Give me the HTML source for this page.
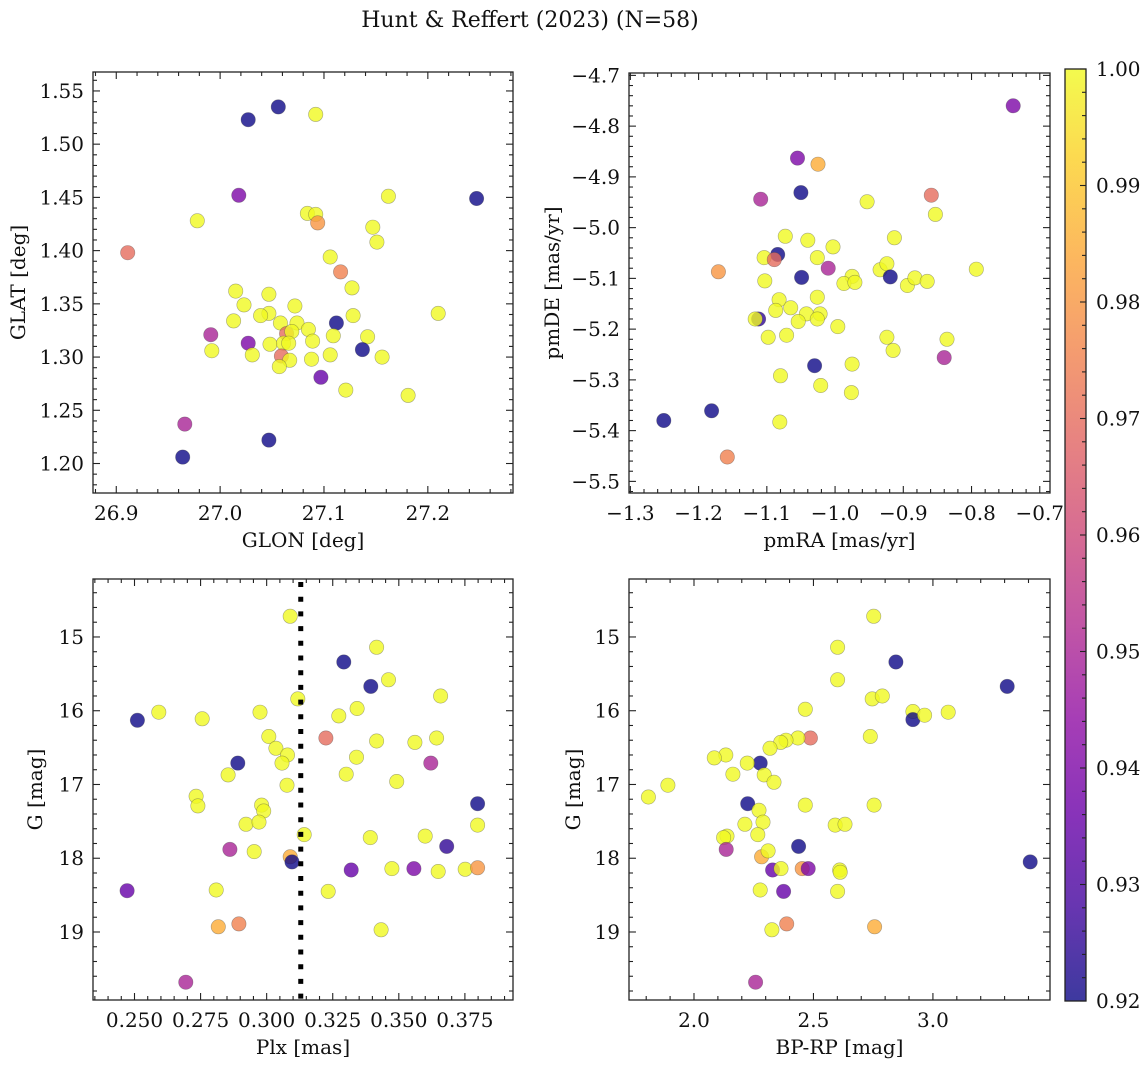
<!DOCTYPE html>
<html>
<head>
<meta charset="utf-8">
<style>
html,body{margin:0;padding:0;background:#fff;}
svg{display:block;font-family:"DejaVu Serif","Liberation Serif",serif;}
</style>
</head>
<body>
<svg id="fig" width="1148" height="1068" viewBox="0 0 1148 1068" xmlns="http://www.w3.org/2000/svg">
<text x="530" y="27" font-size="22" text-anchor="middle" fill="#111">Hunt &amp; Reffert (2023) (N=58)</text>
</svg>
<script>
// ---------- Panel 1: GLON vs GLAT ----------
const glon = [27.027,27.056,27.092,27.018,27.247,26.978,26.911,27.162,27.084,27.092,27.094,27.147,27.151,27.106,27.116,27.127,27.015,27.047,27.072,27.023,27.047,27.039,27.013,27.058,27.074,27.085,27.128,27.210,27.112,27.064,27.069,27.089,27.109,27.142,26.991,27.027,27.048,27.061,27.066,26.992,27.031,27.059,27.067,27.057,27.088,27.106,27.137,27.156,27.097,27.121,27.181,26.966,27.047,26.964];
const glat = [1.523,1.535,1.528,1.452,1.449,1.428,1.398,1.451,1.435,1.434,1.426,1.422,1.408,1.394,1.380,1.365,1.362,1.359,1.348,1.349,1.341,1.339,1.334,1.332,1.332,1.326,1.339,1.341,1.332,1.322,1.324,1.315,1.320,1.319,1.321,1.313,1.312,1.313,1.313,1.306,1.302,1.301,1.297,1.291,1.298,1.302,1.307,1.300,1.281,1.269,1.264,1.237,1.222,1.206];
const prob1 = [0.92,0.92,1,0.94,0.92,1,0.97,1,1,1,0.98,1,1,1,0.975,1,1,1,1,1,1,1,1,1,1,1,1,1,0.92,0.97,1,1,1,1,0.95,0.94,1,1,1,1,1,0.97,1,1,1,1,0.92,1,0.935,1,1,0.95,0.92,0.92];

// ---------- Panel 2: pmRA vs pmDE ----------
const pmra = [-0.739,-1.055,-1.025,-1.050,-1.109,-0.859,-0.953,-0.853,-1.073,-1.040,-1.003,-0.913,-1.084,-1.104,-1.089,-1.026,-1.010,-1.171,-1.049,-1.103,-0.975,-0.987,-0.971,-0.934,-0.924,-0.919,-0.894,-0.883,-0.865,-0.793,-1.082,-1.026,-1.065,-1.087,-1.042,-1.022,-1.026,-1.112,-1.117,-1.054,-0.996,-1.098,-1.071,-0.924,-0.915,-0.836,-0.840,-1.030,-0.975,-1.080,-1.021,-0.976,-1.081,-1.181,-1.251,-1.158];
const pmde = [-4.760,-4.863,-4.875,-4.931,-4.944,-4.936,-4.949,-4.974,-5.017,-5.025,-5.038,-5.020,-5.053,-5.059,-5.063,-5.059,-5.080,-5.087,-5.098,-5.105,-5.096,-5.110,-5.108,-5.083,-5.071,-5.097,-5.114,-5.099,-5.106,-5.082,-5.142,-5.137,-5.158,-5.163,-5.170,-5.170,-5.180,-5.180,-5.180,-5.185,-5.195,-5.216,-5.212,-5.216,-5.242,-5.220,-5.256,-5.272,-5.269,-5.292,-5.311,-5.325,-5.383,-5.361,-5.380,-5.452];
const prob2 = [0.94,0.94,0.985,0.92,0.95,0.97,1,1,1,1,1,1,0.92,1,0.97,1,0.95,0.98,0.92,1,1,1,1,1,1,0.92,1,1,1,1,1,1,1,1,1,1,1,0.925,1,1,1,1,1,1,1,1,0.95,0.92,1,1,1,1,1,0.92,0.92,0.975];

// ---------- Panel 3: Plx vs G ----------
const plx = [0.3089,0.3416,0.3292,0.3461,0.3394,0.3658,0.3118,0.2511,0.2592,0.2756,0.2975,0.3342,0.3273,0.3224,0.3008,0.3035,0.3079,0.3058,0.2891,0.2854,0.3077,0.3416,0.3561,0.3643,0.3340,0.3301,0.3621,0.3492,0.2733,0.2740,0.2981,0.2989,0.2922,0.2971,0.3798,0.3798,0.3142,0.3392,0.3600,0.3681,0.2861,0.2953,0.3089,0.3096,0.3320,0.3474,0.3557,0.3649,0.3751,0.3798,0.2472,0.2809,0.3233,0.2817,0.2895,0.3433,0.2694];
const gmag3 = [14.72,15.14,15.34,15.58,15.67,15.80,15.84,16.13,16.02,16.11,16.02,15.97,16.07,16.37,16.35,16.51,16.60,16.71,16.71,16.87,17.01,16.41,16.43,16.37,16.63,16.86,16.71,16.96,17.16,17.29,17.28,17.36,17.54,17.51,17.26,17.55,17.68,17.72,17.70,17.84,17.88,17.91,17.98,18.05,18.16,18.14,18.14,18.18,18.15,18.13,18.44,18.43,18.45,18.93,18.89,18.97,19.68];
const prob3 = [1,1,0.92,1,0.92,1,1,0.92,1,1,1,1,1,0.97,1,1,1,1,0.92,1,1,1,1,1,1,1,0.95,1,1,1,1,1,1,1,0.92,1,1,1,1,0.925,0.95,1,0.985,0.92,0.935,1,0.94,1,1,0.98,0.935,1,1,0.985,0.975,1,0.95];
const plxRef = [0.3129];

// ---------- Panel 4: BP-RP vs G ----------
const bprp = [2.752,2.601,2.845,3.311,2.601,2.746,2.788,2.916,2.916,2.965,3.064,2.466,2.738,2.487,2.435,2.385,2.363,2.318,2.277,2.223,2.133,2.085,2.294,2.163,2.335,1.891,1.809,2.225,2.272,2.466,2.754,2.289,2.213,2.591,2.632,2.267,2.138,2.124,2.438,2.135,2.283,2.310,2.329,2.364,2.453,2.478,2.610,2.612,2.277,2.375,2.601,2.326,2.388,2.756,3.407,2.258];
const gmag4 = [14.72,15.14,15.34,15.67,15.58,15.84,15.80,16.01,16.12,16.06,16.02,15.98,16.35,16.37,16.37,16.40,16.43,16.51,16.71,16.71,16.60,16.64,16.87,16.86,16.97,17.01,17.17,17.26,17.35,17.28,17.28,17.51,17.54,17.55,17.54,17.68,17.70,17.72,17.84,17.88,17.98,17.90,18.16,18.14,18.14,18.14,18.16,18.19,18.43,18.45,18.45,18.97,18.89,18.93,18.05,19.68];
const prob4 = [1,1,0.92,0.92,1,1,1,1,0.92,1,1,1,1,0.97,1,1,1,1,0.92,1,1,1,1,1,1,1,1,0.92,1,1,1,1,1,1,1,1,1,1,0.92,0.95,0.985,1,0.935,1,0.98,0.94,1,1,1,0.935,1,1,0.975,0.985,0.92,0.95];

// ---------- Tick label arrays ----------
const ticks1x = ["26.9","27.0","27.1","27.2"];
const ticks1y = ["1.20","1.25","1.30","1.35","1.40","1.45","1.50","1.55"];
const ticks2x = ["−1.3","−1.2","−1.1","−1.0","−0.9","−0.8","−0.7"];
const ticks2y = ["−5.5","−5.4","−5.3","−5.2","−5.1","−5.0","−4.9","−4.8","−4.7"];
const ticks3x = ["0.250","0.275","0.300","0.325","0.350","0.375"];
const ticksG = ["15","16","17","18","19"];
const ticks4x = ["2.0","2.5","3.0"];
const cbarTicks = ["0.92","0.93","0.94","0.95","0.96","0.97","0.98","0.99","1.00"];

const FS = 20;
const NS = "http://www.w3.org/2000/svg";
const svg = document.getElementById('fig');
function mk(tag, attrs, parent){
  const e = document.createElementNS(NS, tag);
  for (const k in attrs) e.setAttribute(k, attrs[k]);
  (parent||svg).appendChild(e);
  return e;
}
const plasma = ["#0d0887","#41049d","#6a00a8","#8f0da4","#b12a90","#cc4778","#e16462","#f2844b","#fca636","#fcce25","#f0f921"];
function hex(h){return [parseInt(h.slice(1,3),16),parseInt(h.slice(3,5),16),parseInt(h.slice(5,7),16)];}
function cmap(p){
  let t=(p-0.92)/0.08; t=Math.max(0,Math.min(1,t));
  const f=t*10, i=Math.min(9,Math.floor(f)), r=f-i;
  const a=hex(plasma[i]), b=hex(plasma[i+1]);
  return "rgb("+a.map((v,k)=>Math.round(v+(b[k]-v)*r)).join(",")+")";
}

function panel(cfg, xs, ys, ps, xl, yl){
  const g = mk('g', {});
  
  
  const X = v => cfg.L + (v - cfg.xmin) / (cfg.xmax - cfg.xmin) * (cfg.R - cfg.L);
  const Y = v => cfg.yinv ? cfg.T + (v - cfg.ymin) / (cfg.ymax - cfg.ymin) * (cfg.B - cfg.T)
                          : cfg.B - (v - cfg.ymin) / (cfg.ymax - cfg.ymin) * (cfg.B - cfg.T);
  const pg = mk('g', {}, g);
  
  
  for (let i=0;i<xs.length;i++){
    const c = mk('circle', {cx:X(xs[i]).toFixed(1), cy:Y(ys[i]).toFixed(1), r:7.2, fill:cmap(ps[i]), 'fill-opacity':0.8, stroke:'#444', 'stroke-opacity':0.45, 'stroke-width':0.6}, pg);
    
    
  }
  if (cfg.extra) cfg.extra(g, X, Y);
  const fr = mk('rect', {x:cfg.L, y:cfg.T, width:cfg.R-cfg.L, height:cfg.B-cfg.T, fill:'none', stroke:'#222', 'stroke-width':1.3}, g);
  
  
  const tg = mk('g', {stroke:'#222','stroke-width':1.1}, g);
  const eps=1e-9;
  const xStart = Math.ceil((cfg.xmin)/cfg.xminor - eps)*cfg.xminor;
  for (let v=xStart; v<=cfg.xmax+eps; v+=cfg.xminor){
    const isMaj = Math.abs(v/cfg.xmajor - Math.round(v/cfg.xmajor))<1e-6;
    const len = isMaj?7:4, x=X(v);
    mk('line',{x1:x,y1:cfg.B,x2:x,y2:cfg.B-len},tg);
    mk('line',{x1:x,y1:cfg.T,x2:x,y2:cfg.T+len},tg);
  }
  const yStart = Math.ceil((Math.min(cfg.ymin,cfg.ymax))/cfg.yminor - eps)*cfg.yminor;
  const yEnd = Math.max(cfg.ymin,cfg.ymax);
  for (let v=yStart; v<=yEnd+eps; v+=cfg.yminor){
    const isMaj = Math.abs(v/cfg.ymajor - Math.round(v/cfg.ymajor))<1e-6;
    const len = isMaj?7:4, y=Y(v);
    mk('line',{x1:cfg.L,y1:y,x2:cfg.L+len,y2:y},tg);
    mk('line',{x1:cfg.R,y1:y,x2:cfg.R-len,y2:y},tg);
  }
  xl.forEach((s,i)=>{
    const v = cfg.xfirst + i*cfg.xmajor;
    const t = mk('text',{x:X(v), y:cfg.B+27, 'font-size':FS, 'text-anchor':'middle', fill:'#111'}, g);
    t.textContent = s;
    
    
  });
  yl.forEach((s,i)=>{
    const v = cfg.yfirst + i*cfg.ymajor;
    const t = mk('text',{x:cfg.L-9, y:Y(v)+7, 'font-size':FS, 'text-anchor':'end', fill:'#111'}, g);
    t.textContent = s;
    
    
  });
  const xt = mk('text',{x:(cfg.L+cfg.R)/2, y:cfg.B+54, 'font-size':FS, 'text-anchor':'middle', fill:'#111'}, g);
  xt.textContent = cfg.xlabel;
  
  
  const yt = mk('text',{x:0,y:0,'font-size':FS,'text-anchor':'middle',fill:'#111',transform:'translate('+cfg.ylx+','+((cfg.T+cfg.B)/2)+') rotate(-90)'}, g);
  yt.textContent = cfg.ylabel;
  
  
}

panel({name:'glon-glat-panel', L:93,R:513,T:72,B:493, xmin:26.8776,xmax:27.282, ymin:1.1723,ymax:1.5678,
  xmajor:0.1,xminor:0.02,ymajor:0.05,yminor:0.01,xfirst:26.9,yfirst:1.20,xlabel:'GLON [deg]',ylabel:'GLAT [deg]',ylx:25}, glon, glat, prob1, ticks1x, ticks1y);

panel({name:'pm-panel', L:629,R:1050,T:73,B:493, xmin:-1.302,xmax:-0.685, ymin:-5.5229,ymax:-4.6953,
  xmajor:0.1,xminor:0.02,ymajor:0.1,yminor:0.02,xfirst:-1.3,yfirst:-5.5,xlabel:'pmRA [mas/yr]',ylabel:'pmDE [mas/yr]',ylx:559}, pmra, pmde, prob2, ticks2x, ticks2y);

panel({name:'plx-g-panel', L:93,R:513,T:579,B:1000, xmin:0.2343,xmax:0.3932, ymin:14.214,ymax:19.922, yinv:true,
  xmajor:0.025,xminor:0.005,ymajor:1,yminor:0.2,xfirst:0.25,yfirst:15,xlabel:'Plx [mas]',ylabel:'G [mag]',ylx:42,
  extra:(g,X,Y)=>{
    plxRef.forEach(v=>{
      const l = mk('line',{x1:X(v),x2:X(v),y1:582,y2:1000,stroke:'#000','stroke-width':5,'stroke-dasharray':'5 9.7'},g);
      
      
    });
  }}, plx, gmag3, prob3, ticks3x, ticksG);

panel({name:'cmd-panel', L:629,R:1050,T:579,B:1000, xmin:1.728,xmax:3.490, ymin:14.214,ymax:19.922, yinv:true,
  xmajor:0.5,xminor:0.1,ymajor:1,yminor:0.2,xfirst:2.0,yfirst:15,xlabel:'BP-RP [mag]',ylabel:'G [mag]',ylx:580}, bprp, gmag4, prob4, ticks4x, ticksG);

// ---------- Colorbar ----------
const cb = mk('g',{});


const defs = mk('defs',{},cb);
const grad = mk('linearGradient',{id:'plasmaGrad',x1:0,y1:1,x2:0,y2:0},defs);
plasma.forEach((c,i)=>mk('stop',{offset:(i/10),'stop-color':c,'stop-opacity':0.8},grad));
const CT=69, CB=1001, CL=1065, CR=1086;
mk('rect',{x:CL,y:CT,width:CR-CL,height:CB-CT,fill:'url(#plasmaGrad)'},cb);
mk('rect',{x:CL,y:CT,width:CR-CL,height:CB-CT,fill:'none',stroke:'#222','stroke-width':1.3},cb);
const CY = v => CB - (v-0.92)/0.08*(CB-CT);
for (let k=0;k<=40;k++){
  const v=0.92+k*0.002, y=CY(v), maj=(k%5===0);
  mk('line',{x1:CR,x2:CR-(maj?6:4),y1:y,y2:y,stroke:'#222','stroke-width':1.1},cb);
}
cbarTicks.forEach((s,i)=>{
  const t = mk('text',{x:CR+10,y:CY(0.92+i*0.01)+7,'font-size':FS,fill:'#111'},cb);
  t.textContent=s;
  
  
});
</script>
</body>
</html>
